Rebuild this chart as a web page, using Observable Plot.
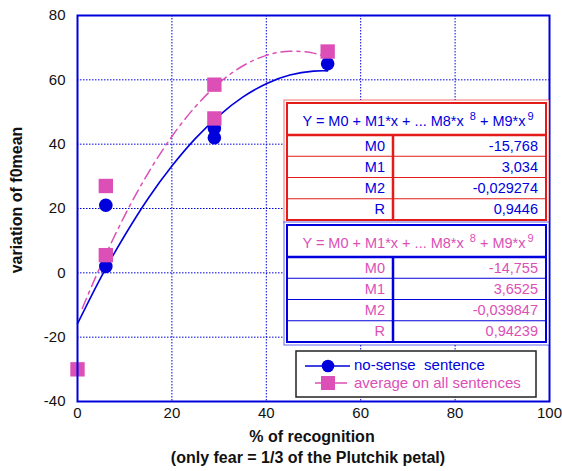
<!DOCTYPE html>
<html>
<head>
<meta charset="utf-8">
<script src="https://cdn.jsdelivr.net/npm/d3@7"></script>
<script src="https://cdn.jsdelivr.net/npm/@observablehq/plot@0.6"></script>
<style>
  html, body { margin: 0; padding: 0; background: #fff; }
  #chart { width: 562px; height: 471px; }
  svg { font-family: "Liberation Sans", Arial, sans-serif; }
</style>
</head>
<body>
<div id="chart"></div>
<script>
// ---- data ----
const noSenseX = [6, 6, 29, 29, 53];
const noSenseY = [21, 2, 42, 45, 65];
const averageX = [0, 6, 6, 29, 29, 53];
const averageY = [-30, 27, 5.5, 58.5, 48, 68.8];

// fitted curves (estimated along the drawn lines)
const fitBlueX = [0, 5, 10, 15, 20, 25, 30, 35, 40, 45, 50, 53];
const fitBlueY = [-15.8, -1.3, 11.6, 23.2, 33.2, 41.8, 48.9, 54.6, 58.8, 61.5, 62.7, 62.8];
const fitPinkX = [1, 5, 10, 15, 20, 25, 30, 35, 40, 45, 50, 53];
const fitPinkY = [-11.1, 2.5, 17.8, 31.1, 42.4, 51.7, 59.0, 64.3, 67.6, 68.9, 68.3, 66.9];

const xTicks = [0, 20, 40, 60, 80, 100];
const yTicks = [-40, -20, 0, 20, 40, 60, 80];

const fitHeader = "Y = M0 + M1*x + ... M8*x";
const coefNames = ["M0", "M1", "M2", "R"];
const coefBlue = ["-15,768", "3,034", "-0,029274", "0,9446"];
const coefPink = ["-14,755", "3,6525", "-0,039847", "0,94239"];

const legendLabels = ["no-sense  sentence", "average on all sentences"];
const xLabel1 = "% of recognition";
const xLabel2 = "(only fear = 1/3 of the Plutchik petal)";
const yLabel = "variation of f0mean";

const BLUE = "#0000dd";
const PINK = "#dc4fb6";
const RED = "#e41b1b";

const blue = noSenseX.map((x, i) => ({x, y: noSenseY[i]}));
const pink = averageX.map((x, i) => ({x, y: averageY[i]}));
const fb = fitBlueX.map((x, i) => ({x, y: fitBlueY[i]}));
const fp = fitPinkX.map((x, i) => ({x, y: fitPinkY[i]}));

const fmt = d => String(d);

const plot = Plot.plot({
  width: 562,
  height: 471,
  marginLeft: 77,
  marginRight: 13,
  marginTop: 15,
  marginBottom: 70,
  style: {fontFamily: "Liberation Sans, Arial, sans-serif", fontSize: "15px", color: "#111", background: "#fff"},
  x: {domain: [0, 100], ticks: xTicks, label: null},
  y: {domain: [-40, 80], ticks: yTicks, label: null},
  marks: [
    Plot.gridX(xTicks.slice(1, -1), {stroke: BLUE, strokeOpacity: 1, strokeWidth: 1, strokeDasharray: "1.5,1.5"}),
    Plot.gridY(yTicks.slice(1, -1), {stroke: BLUE, strokeOpacity: 1, strokeWidth: 1, strokeDasharray: "1.5,1.5"}),
    Plot.axisX(xTicks, {tickSize: 0, tickPadding: 6, fontSize: 15, fill: "#111", tickFormat: fmt}),
    Plot.axisY(yTicks, {tickSize: 0, tickPadding: 12, fontSize: 15, fill: "#111", tickFormat: fmt}),
    Plot.line(fb, {x: "x", y: "y", stroke: BLUE, strokeWidth: 1.6, curve: "natural"}),
    Plot.line(fp, {x: "x", y: "y", stroke: PINK, strokeWidth: 1.5, curve: "natural", strokeDasharray: "11,5,3,5"}),
    Plot.dot(blue, {x: "x", y: "y", r: 6.8, fill: BLUE, stroke: "none"}),
    Plot.dot(pink, {x: "x", y: "y", r: 8.1, symbol: "square", fill: PINK, stroke: "none"}),
    Plot.frame({stroke: BLUE, strokeWidth: 2})
  ]
});

document.getElementById("chart").appendChild(plot);
const svg = d3.select(plot);

// axis titles
svg.append("text").attr("x", 312).attr("y", 442).attr("text-anchor", "middle")
  .attr("font-weight", "bold").attr("font-size", 16).attr("fill", "#111").text(xLabel1);
svg.append("text").attr("x", 308).attr("y", 463).attr("text-anchor", "middle")
  .attr("font-weight", "bold").attr("font-size", 16).attr("fill", "#111").text(xLabel2);
svg.append("text").attr("transform", "translate(22,200) rotate(-90)").attr("text-anchor", "middle")
  .attr("font-weight", "bold").attr("font-size", 16).attr("fill", "#111").text(yLabel);

// regression tables
function table(top, border, textColor, values) {
  const g = svg.append("g");
  const x0 = 284, x1 = 549, bottom = top + 123;
  g.append("rect").attr("x", x0).attr("y", top).attr("width", x1 - x0).attr("height", bottom - top)
    .attr("fill", "#fff").attr("stroke", border).attr("stroke-opacity", 0.6).attr("stroke-width", 1);
  const ix0 = x0 + 3, ix1 = x1 - 3, itop = top + 3, ibot = bottom - 3;
  g.append("rect").attr("x", ix0).attr("y", itop).attr("width", ix1 - ix0).attr("height", ibot - itop)
    .attr("fill", "#fff").attr("stroke", border).attr("stroke-width", 2);
  const hb = top + 35;
  g.append("line").attr("x1", ix0).attr("x2", ix1).attr("y1", hb).attr("y2", hb)
    .attr("stroke", border).attr("stroke-width", 2.5);
  const rowH = (ibot - hb) / 4;
  for (let i = 1; i < 4; i++) {
    const y = hb + rowH * i;
    g.append("line").attr("x1", ix0).attr("x2", ix1).attr("y1", y).attr("y2", y)
      .attr("stroke", border).attr("stroke-width", 1);
  }
  g.append("line").attr("x1", 393).attr("x2", 393).attr("y1", hb).attr("y2", ibot)
    .attr("stroke", border).attr("stroke-width", 2.5);
  const ht = g.append("text").attr("x", 418).attr("y", top + 26).attr("text-anchor", "middle")
    .attr("font-size", 14.5).attr("fill", textColor);
  ht.append("tspan").text(fitHeader);
  ht.append("tspan").attr("dx", 6).attr("dy", -6).attr("font-size", 11).text("8");
  ht.append("tspan").attr("dx", 0).attr("dy", 6).text(" + M9*x");
  ht.append("tspan").attr("dx", 2).attr("dy", -6).attr("font-size", 11).text("9");
  coefNames.forEach((n, i) => {
    const y = hb + rowH * i + rowH / 2 + 5;
    g.append("text").attr("x", 385).attr("y", y).attr("text-anchor", "end")
      .attr("font-size", 14.5).attr("fill", textColor).text(n);
    g.append("text").attr("x", 538).attr("y", y).attr("text-anchor", "end")
      .attr("font-size", 14.5).attr("fill", textColor).text(values[i]);
  });
}
table(100, RED, BLUE, coefBlue);
table(222, BLUE, PINK, coefPink);

// legend
const lg = svg.append("g");
lg.append("rect").attr("x", 296).attr("y", 351).attr("width", 240).attr("height", 46)
  .attr("fill", "#fff").attr("stroke", "#222").attr("stroke-width", 1.5);
lg.append("line").attr("x1", 305).attr("x2", 350).attr("y1", 366).attr("y2", 366).attr("stroke", BLUE).attr("stroke-width", 1.5);
lg.append("circle").attr("cx", 328).attr("cy", 366).attr("r", 6.3).attr("fill", BLUE);
lg.append("line").attr("x1", 315).attr("x2", 347).attr("y1", 383).attr("y2", 383).attr("stroke", PINK).attr("stroke-width", 1.5);
lg.append("rect").attr("x", 321).attr("y", 376).attr("width", 14).attr("height", 14).attr("fill", PINK);
lg.append("text").attr("x", 354).attr("y", 370).attr("text-anchor", "start").attr("font-size", 15).attr("fill", BLUE).text(legendLabels[0]);
lg.append("text").attr("x", 354).attr("y", 388).attr("text-anchor", "start").attr("font-size", 15).attr("fill", PINK).text(legendLabels[1]);
</script>
</body>
</html>
